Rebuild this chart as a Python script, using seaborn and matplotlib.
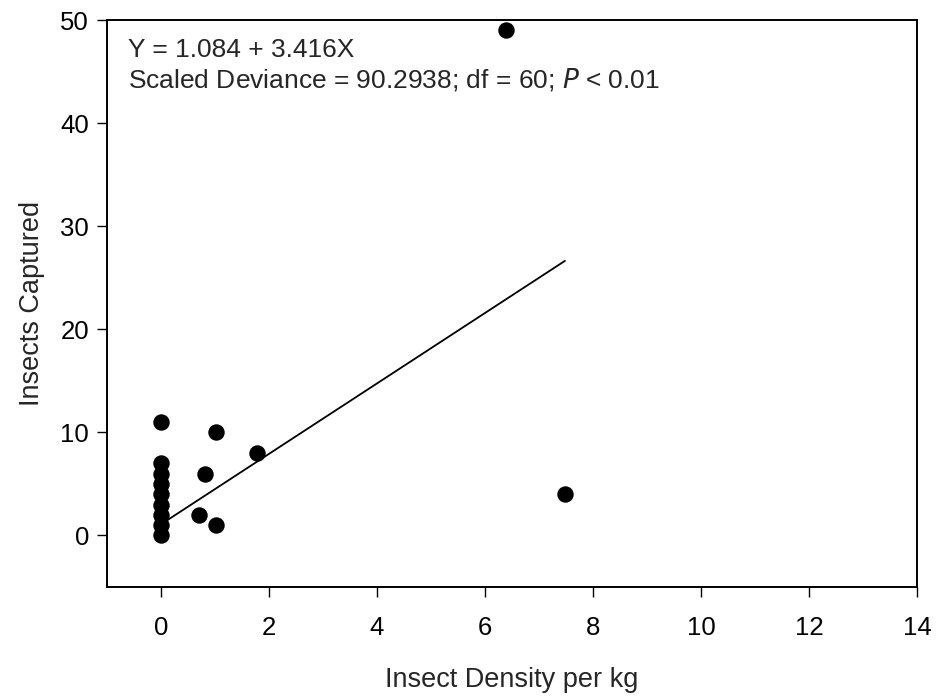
import matplotlib
matplotlib.use("Agg")
import matplotlib.pyplot as plt
import seaborn as sns
import numpy as np
import pandas as pd

density = [0, 0, 0, 0, 0, 0, 0, 0, 0, 0.70, 0.82, 1.02, 1.02, 1.77, 6.38, 7.48]
captured = [0, 1, 2, 3, 4, 5, 6, 7, 11, 2, 6, 10, 1, 8, 49, 4]
intercept = 1.084
slope = 3.416
xticks = [0, 2, 4, 6, 8, 10, 12, 14]
yticks = [0, 10, 20, 30, 40, 50]

sns.set_theme(style="ticks")
plt.rcParams['font.family'] = ['Liberation Sans', 'DejaVu Sans']

df = pd.DataFrame({"x": density, "y": captured})

fig = plt.figure(figsize=(9.36, 7.0), dpi=100)
ax = fig.add_axes([0.1143, 0.1614, 0.8654, 0.81])

sns.scatterplot(data=df, x="x", y="y", ax=ax, color="black", s=140,
                edgecolor="black", linewidth=0, zorder=3)

xl = np.array([min(density), max(density)])
sns.lineplot(x=xl, y=intercept + slope * xl, ax=ax, color="black", linewidth=1.3)

ax.set_xlim(-1, 14)
ax.set_ylim(-5, 50)
ax.set_xticks(xticks)
ax.set_yticks(yticks)
ax.tick_params(direction="out", length=7, width=1, labelsize=18.5, colors="black")
ax.tick_params(axis="x", pad=14)
ax.tick_params(axis="y", pad=6)
for s in ax.spines.values():
    s.set_linewidth(1.4)
    s.set_color("black")

ax.set_xlabel("Insect Density per kg", fontsize=19.5, labelpad=19)
ax.set_ylabel("Insects Captured", fontsize=19.5, labelpad=11)

ax.text(0.026, 0.9347, "Y = 1.084 + 3.416X", transform=ax.transAxes, fontsize=19,
        va="baseline", ha="left")
ax.text(0.026, 0.8818, r"Scaled Deviance = 90.2938; df = 60; $\it{P}$ < 0.01",
        transform=ax.transAxes, fontsize=19, va="baseline", ha="left")

fig.savefig("out.png", dpi=100)
